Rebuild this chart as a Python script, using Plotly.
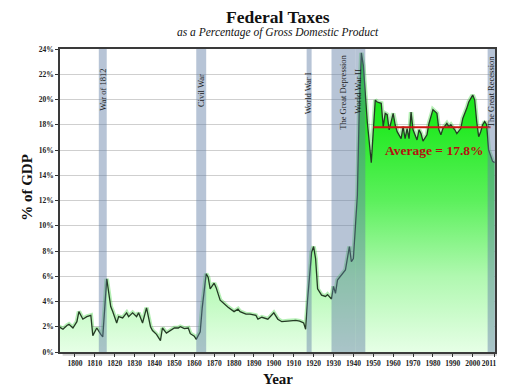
import plotly.graph_objects as go

# ---- data ----
years = [1792, 1794, 1796, 1797, 1799, 1801, 1802, 1804, 1806, 1808, 1809, 1811, 1813, 1814,
         1816, 1818, 1819, 1821, 1822, 1824, 1826, 1827, 1829, 1831, 1832, 1834, 1836, 1838,
         1839, 1841, 1843, 1844, 1846, 1848, 1850, 1852, 1853, 1855, 1857, 1858, 1860, 1861,
         1863, 1864, 1866, 1867, 1868, 1870, 1871, 1873, 1875, 1877, 1880, 1882, 1883, 1886,
         1888, 1891, 1892, 1894, 1897, 1900, 1902, 1904, 1907, 1909, 1911, 1913, 1915, 1916,
         1917, 1919, 1920, 1921, 1922, 1924, 1926, 1927, 1929, 1930, 1931, 1932, 1934, 1936,
         1938, 1939, 1940, 1942, 1943, 1944, 1945, 1947, 1949, 1951, 1952, 1954, 1955, 1956,
         1957, 1958, 1960, 1961, 1962, 1964, 1965, 1966, 1967, 1968, 1969, 1970, 1972, 1973,
         1974, 1975, 1977, 1978, 1980, 1982, 1983, 1984, 1985, 1987, 1988, 1989, 1991, 1992,
         1994, 1995, 1997, 1998, 2000, 2001, 2002, 2003, 2004, 2005, 2006, 2007, 2008, 2010,
         2011]
tax_pct = [2.0, 1.8, 2.1, 2.2, 1.9, 2.4, 3.2, 2.6, 2.8, 2.9, 1.3, 1.9, 1.4, 1.2,
           5.8, 3.6, 3.2, 2.3, 2.8, 2.7, 3.1, 2.8, 3.1, 2.8, 3.1, 2.3, 3.5, 2.0,
           1.7, 1.4, 0.9, 1.9, 1.5, 1.7, 1.9, 1.9, 2.0, 1.85, 1.9, 1.45, 1.25, 1.0,
           1.6, 3.5, 6.2, 5.9, 5.0, 5.45, 5.1, 4.1, 3.8, 3.55, 3.2, 3.4, 3.2, 3.0,
           3.0, 2.9, 2.6, 2.75, 2.6, 3.1, 2.6, 2.4, 2.45, 2.5, 2.5, 2.45, 2.3, 1.8,
           4.2, 7.9, 8.35, 7.4, 5.0, 4.5, 4.4, 4.55, 4.2, 5.2, 4.65, 5.7, 6.1, 6.5,
           8.35, 7.15, 7.4, 12.4, 19.6, 23.7, 22.7, 18.2, 15.0, 19.95, 19.8, 19.7, 17.85, 18.9,
           18.8, 17.6, 18.9, 18.0, 17.45, 16.9, 17.85, 16.9, 17.7, 16.9, 19.0, 17.6, 16.8, 17.6,
           17.3, 16.7, 17.2, 18.1, 19.2, 18.9, 17.6, 17.2, 17.7, 18.1, 17.85, 18.0, 17.6, 17.3,
           17.7, 18.5, 19.3, 19.8, 20.35, 19.95, 18.25, 17.05, 17.45, 18.0, 18.25, 18.0, 16.0, 15.1,
           15.0]

events = ["War of 1812", "Civil War", "World War I", "The Great Depression",
          "World War II", "The Great Recession"]
event_start = [1812, 1861, 1916.5, 1929, 1941, 2007.5]
event_end = [1816, 1866, 1919, 1941, 1946, 2011.2]
event_label_x = [1814.2, 1863.3, 1917.6, 1935, 1942.6, 2008.9]
event_label_top = [22.6, 22.2, 22.3, 23.7, 22.6, 23.7]

avg_value = 17.8
avg_start, avg_end = 1950, 2009

x_ticks = list(range(1800, 2001, 10)) + [2011]
y_ticks = list(range(0, 25, 2))

SERIF = "Liberation Serif"

fig = go.Figure()

# glow under the line
fig.add_trace(go.Scatter(
    x=years, y=tax_pct, mode="lines",
    line=dict(color="rgba(40,210,40,0.35)", width=4.5),
    hoverinfo="skip", showlegend=False))

fig.add_trace(go.Scatter(
    x=years, y=tax_pct, mode="lines",
    line=dict(color="#243a24", width=1.3),
    fill="tozeroy",
    fillgradient=dict(type="vertical",
                      colorscale=[[0, "#e6ffe6"], [0.25, "#b0f8b0"], [0.5, "#5cf05c"],
                                  [0.75, "#22ea22"], [1, "#10e010"]],
                      start=0, stop=24),
    showlegend=False))

fig.add_trace(go.Scatter(
    x=[avg_start, avg_end], y=[avg_value, avg_value], mode="lines",
    line=dict(color="#d01515", width=2.2), showlegend=False))

shapes = []
# shadow behind the frame
shapes.append(dict(type="rect", xref="paper", yref="paper", x0=0.006, x1=1.007,
                   y0=-0.012, y1=0.99, fillcolor="rgba(120,120,120,0.35)",
                   line=dict(width=0), layer="below"))
shapes.append(dict(type="rect", xref="paper", yref="paper", x0=0, x1=1, y0=0, y1=1,
                   fillcolor="white", line=dict(width=0), layer="below"))
for s, e in zip(event_start, event_end):
    shapes.append(dict(type="rect", xref="x", yref="y", x0=s, x1=e, y0=0, y1=24,
                       fillcolor="rgba(95,125,165,0.45)", line=dict(width=0),
                       layer="above"))

annotations = []
for name, lx, ly in zip(events, event_label_x, event_label_top):
    annotations.append(dict(x=lx, y=ly, xref="x", yref="y", text=name, textangle=-90,
                            showarrow=False, yanchor="top", xanchor="center",
                            font=dict(family=SERIF, size=8.5, color="#1a1a1a")))
annotations += [
    dict(x=1980.8, y=16.0, xref="x", yref="y", text="<b>Average = 17.8%</b>",
         showarrow=False, font=dict(family=SERIF, size=13.5, color="#b41010")),
    dict(x=0.5, y=1.107, xref="paper", yref="paper", text="<b>Federal Taxes</b>",
         showarrow=False, yanchor="middle", font=dict(family=SERIF, size=17.5, color="#111")),
    dict(x=0.5, y=1.053, xref="paper", yref="paper",
         text="<i>as a Percentage of Gross Domestic Product</i>",
         showarrow=False, yanchor="middle", font=dict(family=SERIF, size=11.5, color="#111")),
    dict(x=0.5, y=-0.089, xref="paper", yref="paper", text="<b>Year</b>",
         showarrow=False, yanchor="middle", font=dict(family=SERIF, size=15, color="#111")),
    dict(x=-0.076, y=0.545, xref="paper", yref="paper", text="<b>% of GDP</b>",
         textangle=-90, showarrow=False, xanchor="center", yanchor="middle",
         font=dict(family=SERIF, size=15, color="#111")),
]

x_ticktext = [f"<b>{t}</b>" for t in x_ticks]
x_ticktext[-1] = "<b>2011</b>" + "&nbsp;" * 6

fig.update_layout(
    width=497, height=383,
    margin=dict(l=52, r=10, t=41, b=39, autoexpand=False),
    paper_bgcolor="white", plot_bgcolor="rgba(0,0,0,0)",
    shapes=shapes, annotations=annotations,
    xaxis=dict(range=[1792.5, 2011.2], tickvals=x_ticks,
               ticktext=x_ticktext, automargin=False, tickangle=0,
               ticklabeloverflow="allow",
               ticks="outside", ticklen=3, tickcolor="#333", showgrid=False,
               showline=True, linecolor="#3a3a3a", linewidth=1.5, mirror=True,
               tickfont=dict(family=SERIF, size=7.5, color="#222"), zeroline=False),
    yaxis=dict(range=[0, 24], tickvals=y_ticks, ticktext=[f"<b>{t}%</b>" for t in y_ticks],
               automargin=False,
               ticks="outside", ticklen=3, tickcolor="#333", showgrid=True,
               gridcolor="#cfcfcf", gridwidth=1,
               showline=True, linecolor="#3a3a3a", linewidth=1.5, mirror=True,
               tickfont=dict(family=SERIF, size=7.5, color="#222"), zeroline=False),
)

fig.write_html("out.html")
